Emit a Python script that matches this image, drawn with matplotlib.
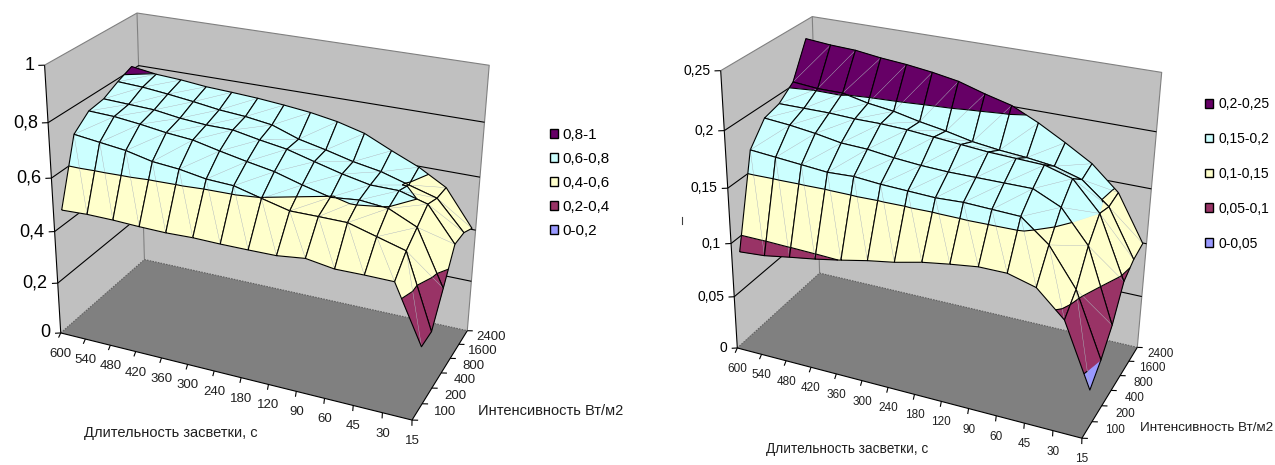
import numpy as np
import matplotlib
matplotlib.use('Agg')
import matplotlib.pyplot as plt
from matplotlib.lines import Line2D
from matplotlib.patches import Patch
from mpl_toolkits.mplot3d import proj3d
from mpl_toolkits.mplot3d.art3d import Poly3DCollection, Line3DCollection

plt.rcParams['font.family'] = ['Liberation Sans', 'DejaVu Sans']

W, H = 1275, 465

# time categories along the front, intensity series front to back
times = ['600', '540', '480', '420', '360', '300', '240', '180', '120', '90', '60', '45', '30', '15']
intensities = ['100', '200', '400', '800', '1600', '2400']

# left chart, one row per intensity
left_100 = [.459, .463, .462, .458, .456, .459, .457, .457, .458, .470, .454, .455, .454, .244]
left_200 = [.701, .689, .677, .655, .646, .629, .624, .598, .573, .573, .572, .543, .514, .244]
left_400 = [.750, .746, .735, .721, .712, .690, .670, .652, .623, .598, .608, .598, .551, .351]
left_800 = [.759, .755, .751, .737, .729, .728, .709, .693, .666, .640, .619, .618, .589, .464]
left_1600 = [.789, .784, .774, .762, .748, .740, .726, .691, .669, .644, .626, .596, .567, .460]
left_2400 = [.813, .799, .793, .783, .778, .772, .763, .752, .735, .709, .663, .620, .563, .430]

# right chart
right_100 = [.0865, .0883, .0923, .096, .1005, .1055, .1095, .115, .1188, .122, .122, .1153, .093, .0368]
right_200 = [.169, .167, .165, .163, .164, .162, .161, .160, .161, .160, .159, .140, .107, .050]
right_400 = [.188, .186, .183, .179, .178, .175, .173, .172, .172, .172, .172, .161, .133, .068]
right_800 = [.192, .192, .192, .191, .191, .190, .188, .186, .184, .183, .182, .175, .150, .095]
right_1600 = [.203, .201, .201, .196, .193, .188, .184, .179, .176, .174, .171, .164, .145, .103]
right_2400 = [.234, .232, .231, .228, .226, .223, .219, .212, .206, .195, .182, .168, .147, .106]

left_levels = [0, .2, .4, .6, .8, 1]
right_levels = [0, .05, .1, .15, .2, .25]
left_ticks = ['0', '0,2', '0,4', '0,6', '0,8', '1']
right_ticks = ['0', '0,05', '0,1', '0,15', '0,2', '0,25']
left_bands = ['0-0,2', '0,2-0,4', '0,4-0,6', '0,6-0,8', '0,8-1']
right_bands = ['0-0,05', '0,05-0,1', '0,1-0,15', '0,15-0,2', '0,2-0,25']

band_colors = ['#9999FF', '#993366', '#FFFFCC', '#CCFFFF', '#660066']


def clip(poly, level, keep_above):
    # cut a polygon with the plane z = level
    out = []
    for a, b in zip(poly, poly[1:] + poly[:1]):
        a_in = a[2] >= level if keep_above else a[2] <= level
        b_in = b[2] >= level if keep_above else b[2] <= level
        if a_in:
            out.append(a)
        if a_in != b_in:
            t = (level - a[2]) / (b[2] - a[2])
            out.append((a[0] + t*(b[0]-a[0]), a[1] + t*(b[1]-a[1]), level))
    return out


def crossing(tri, level):
    pts = []
    for a, b in zip(tri, tri[1:] + tri[:1]):
        if (a[2] - level) * (b[2] - level) < 0:
            t = (level - a[2]) / (b[2] - a[2])
            pts.append((a[0] + t*(b[0]-a[0]), a[1] + t*(b[1]-a[1]), level))
    return pts


def lines(ax, segs, color='k', lw=.8, ls='-'):
    ax.order += 1
    col = Line3DCollection(segs, colors=color, linewidths=lw, linestyles=ls, zorder=ax.order)
    ax.add_collection3d(col, autolim=False)


def label(ax, x, y, z, s, dx, dy, **kw):
    # 2D text at a projected 3D point, shifted by some pixels
    X, Y, _ = proj3d.proj_transform(x, y, z, ax.get_proj())
    ax.annotate(s, (float(X), float(Y)), xytext=(dx*.72, dy*.72), textcoords='offset points',
                annotation_clip=False, **kw)


def draw_chart(box, view, box_aspect, focal, z, levels, ticks, tick_size, label_size):
    size = box[2]
    rect = [(box[0]-size/2)/W, (H-box[1]-size/2)/H, size/W, size/H]
    ax = fig.add_axes(rect, projection='3d')
    ax.patch.set_visible(False)
    ax.set_axis_off()
    ax.computed_zorder = False
    ax.order = 0
    ax.view_init(elev=view[0], azim=view[1], roll=view[2])
    ax.set_proj_type('persp', focal_length=focal)
    ax.set_box_aspect(box_aspect)
    ax.set_xlim(0, 13, view_margin=0)
    ax.set_ylim(0, 6, view_margin=0)
    top = levels[-1]
    ax.set_zlim(0, top, view_margin=0)

    # walls and floor
    ax.order += 1
    walls = Poly3DCollection([[(0, 0, 0), (0, 6, 0), (0, 6, top), (0, 0, top)],
                              [(0, 6, 0), (13, 6, 0), (13, 6, top), (0, 6, top)]],
                             facecolors='#C0C0C0', edgecolors='none', zorder=ax.order)
    ax.add_collection3d(walls, autolim=False)
    ax.order += 1
    floor = Poly3DCollection([[(0, 0, 0), (13, 0, 0), (13, 6, 0), (0, 6, 0)]],
                             facecolors='#808080', edgecolors='none', zorder=ax.order)
    ax.add_collection3d(floor, autolim=False)
    lines(ax, [[(0, 0, top), (0, 6, top), (13, 6, top), (13, 6, 0)],
               [(0, 6, 0), (0, 6, top)]], color='#808080')
    lines(ax, [[(0, 0, 0), (0, 6, 0), (13, 6, 0)]], color='#606060', ls=(0, (1.5, 1)))
    lines(ax, [[(0, 0, v), (0, 6, v), (13, 6, v)] for v in levels[1:-1]])

    # surface, back rows first so the front ones paint over them
    z = np.array(z)
    for j in range(4, -1, -1):
        for i in range(13):
            p00 = (i, j+.5, z[j, i])
            p10 = (i+1, j+.5, z[j, i+1])
            p11 = (i+1, j+1.5, z[j+1, i+1])
            p01 = (i, j+1.5, z[j+1, i])
            # the first row of cells is split along the other diagonal
            if j == 0:
                tris = [[p01, p11, p10], [p01, p10, p00]]
                diag = [p01, p10]
            else:
                tris = [[p00, p11, p01], [p00, p10, p11]]
                diag = [p00, p11]
            polys, cols, segs = [], [], []
            for tri in tris:
                for b in range(5):
                    poly = clip(clip(tri, levels[b], True), levels[b+1], False)
                    if len(poly) > 2:
                        polys.append(poly)
                        cols.append(band_colors[b])
                for lev in levels[1:-1]:
                    pts = crossing(tri, lev)
                    if len(pts) == 2:
                        segs.append(pts)
            ax.order += 1
            pc = Poly3DCollection(polys, facecolors=cols, edgecolors=cols, linewidths=.3, zorder=ax.order)
            ax.add_collection3d(pc, autolim=False)
            lines(ax, [diag], color='#B0B8C0', lw=.3)
            lines(ax, segs + [[p00, p10, p11, p01, p00]])

    # axes with their ticks
    lines(ax, [[(0, 0, 0), (0, 0, top)], [(0, 0, 0), (13, 0, 0), (13, 6, 0)]])
    lines(ax, [[(0, 0, v), (-.17, -.1, v)] for v in levels])
    lines(ax, [[(i, 0, 0), (i+.1, -.3, 0)] for i in range(14)])
    lines(ax, [[(13, j, 0), (13.18, j+.07, 0)] for j in range(7)])

    for v, t in zip(levels, ticks):
        label(ax, 0, 0, v, t, -10, 0, ha='right', va='center', fontsize=tick_size)
    for i, t in enumerate(times):
        label(ax, i, 0, 0, t, 0, -21, ha='center', va='center', fontsize=label_size, color='#202020')
    for j, t in enumerate(intensities):
        label(ax, 13, j+.5, 0, t, 28, 0, ha='center', va='center', fontsize=label_size, color='#202020')
    return ax


def add_legend(x, y, labels, size, box, pad, spacing):
    handles = [Patch(facecolor=c, edgecolor='k', linewidth=1) for c in band_colors]
    fig.legend(handles[::-1], labels[::-1], loc='upper left', bbox_to_anchor=(x/W, 1-y/H),
               frameon=False, fontsize=size, handlelength=box, handleheight=box, handletextpad=pad,
               labelspacing=spacing, borderpad=0, borderaxespad=0)


fig = plt.figure(figsize=(W/100, H/100), dpi=100)

left_z = [left_100, left_200, left_400, left_800, left_1600, left_2400]
right_z = [right_100, right_200, right_400, right_800, right_1600, right_2400]

draw_chart((259.59, 211.26, 501.6), (25.154, -66.445, -.655), (1.3051, .6216, 1), .5148,
           left_z, left_levels, left_ticks, 13, 9.5)
draw_chart((933.19, 223.17, 505.1), (26.398, -66.351, -.842), (1.2324, .5853, 1), .5133,
           right_z, right_levels, right_ticks, 10, 8.5)

add_legend(550, 128, left_bands, 11, .54, .3, .65)
add_legend(1205, 97, right_bands, 10, .6, .36, 1.507)

fig.text(171/W, 1-433/H, 'Длительность засветки, с', ha='center', va='center', fontsize=10.5, color='#202020')
fig.text(551/W, 1-411/H, 'Интенсивность Вт/м2', ha='center', va='center', fontsize=10.5, color='#202020')
fig.text(847/W, 1-449/H, 'Длительность засветки, с', ha='center', va='center', fontsize=9.8, color='#202020')
fig.text(1207/W, 1-428/H, 'Интенсивность Вт/м2', ha='center', va='center', fontsize=9.7, color='#202020')
fig.add_artist(Line2D([682/W, 682/W], [1-217/H, 1-224/H], color='#404040', lw=.8))

fig.savefig('out.png', dpi=100)
